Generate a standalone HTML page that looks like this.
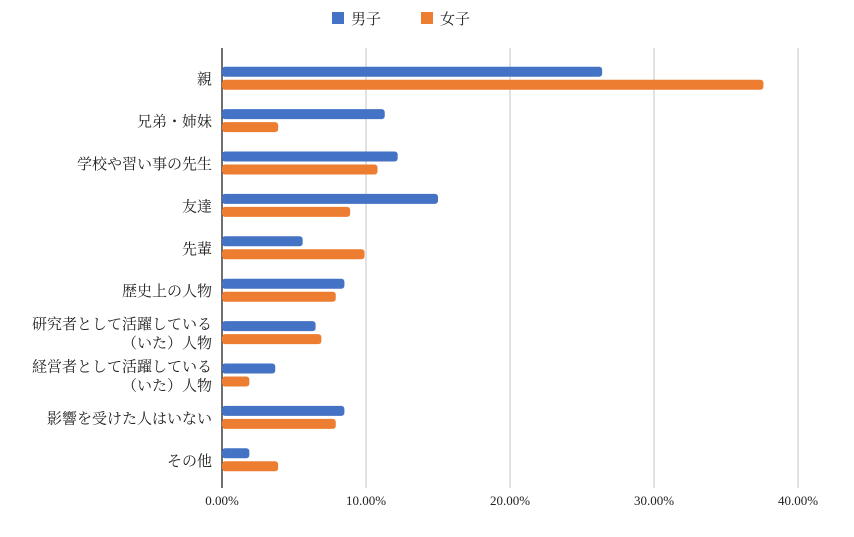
<!DOCTYPE html>
<html><head><meta charset="utf-8"><style>
body{margin:0;background:#fff;}
svg text{font-family:"Liberation Serif","Noto Serif CJK SC","Noto Sans CJK JP",serif;fill:#222;}
</style></head><body>
<svg id="chart" width="854" height="532" xmlns="http://www.w3.org/2000/svg"></svg>
<script>
const categories=["親","兄弟・姉妹","学校や習い事の先生","友達","先輩","歴史上の人物","研究者として活躍している\n（いた）人物","経営者として活躍している\n（いた）人物","影響を受けた人はいない","その他"];
const boys=[26.4,11.3,12.2,15.0,5.6,8.5,6.5,3.7,8.5,1.9];
const girls=[37.6,3.9,10.8,8.9,9.9,7.9,6.9,1.9,7.9,3.9];
const ticks=[0,10,20,30,40];
const tickLabels=["0.00%","10.00%","20.00%","30.00%","40.00%"];
const seriesNames=["男子","女子"];
const NS="http://www.w3.org/2000/svg";
const svgEl=document.getElementById('chart');
const x0=222,pxPer=14.4,plotTop=57,rowH=42.4,gTop=48,gBot=488;
const X=v=>x0+v*pxPer, Y=i=>plotTop+i*rowH+rowH/2;
function mk(t,a){const e=document.createElementNS(NS,t);for(const k in a)e.setAttribute(k,a[k]);svgEl.appendChild(e);return e;}
ticks.forEach((t,i)=>{
 if(t>0){const g=mk('line',{x1:X(t),x2:X(t),y1:gTop,y2:gBot,stroke:'#cfcfcf','stroke-width':1.2});
 
 }
 const tx=mk('text',{x:X(t),y:505,'text-anchor':'middle','font-size':13});tx.textContent=tickLabels[i];
 
 
});
const ax=mk('line',{x1:x0,x2:x0,y1:gTop,y2:gBot,stroke:'#222','stroke-width':1.3});


categories.forEach((c,i)=>{
 const cy=Y(i);
 const b=mk('rect',{x:x0,y:cy-11.5,width:X(boys[i])-x0,height:10,rx:3,fill:'#4472c4'});
 
 
 const g=mk('rect',{x:x0,y:cy+1.5,width:X(girls[i])-x0,height:10,rx:3,fill:'#ed7d31'});
 
 
 const lines=c.split("\n");
 lines.forEach((l,j)=>{
  const t=mk('text',{x:212,y:cy+6+(j-(lines.length-1)/2)*19,'text-anchor':'end','font-size':15});
  t.textContent=l;
  
  
 });
});
const cols=['#4472c4','#ed7d31'];const lx=[332,421];
seriesNames.forEach((n,i)=>{
 const r=mk('rect',{x:lx[i],y:12,width:12,height:12,fill:cols[i]});
 
 
 const t=mk('text',{x:lx[i]+19,y:24,'font-size':15});t.textContent=n;
 
 
});
</script>
</body></html>
